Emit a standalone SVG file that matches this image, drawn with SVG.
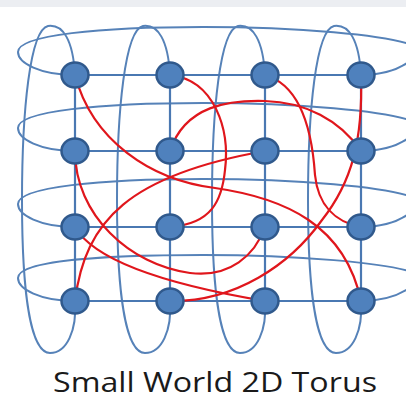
<svg xmlns="http://www.w3.org/2000/svg" width="406" height="411" viewBox="0 0 406 411">
<style>
.loop{fill:none;stroke:#5682b8;stroke-width:2}
.grid{fill:none;stroke:#4a78b2;stroke-width:2.2}
.red{fill:none;stroke:#e0161c;stroke-width:2.2}
.node{fill:#4f81bd;stroke:#30598c;stroke-width:2.5}
.title{font-family:"Open Sans","Liberation Sans",sans-serif;font-size:27px;fill:#1a1a1a}
</style>
<rect x="0" y="0" width="406" height="411" fill="#ffffff"/>
<rect x="0" y="0" width="406" height="7" fill="#eceef2"/>
<g id="connectors">
<g id="vertical-loops">
<path class="loop" d="M75,75 C73,40 63,24 48,26 C30,30 22,110 22,200 C22,290 30,353 50,353 C67,353 77,330 75,301"/>
<path class="loop" d="M170,75 C168,40 158,24 143,26 C125,30 117,110 117,200 C117,290 125,353 145,353 C162,353 172,330 170,301"/>
<path class="loop" d="M265,75 C263,40 253,24 238,26 C220,30 212,110 212,200 C212,290 220,353 240,353 C257,353 267,330 265,301"/>
<path class="loop" d="M361,75 C359,40 349,24 334,26 C316,30 308,110 308,200 C308,290 316,353 336,353 C353,353 363,330 361,301"/>
</g>
<g id="horizontal-loops">
<path class="loop" d="M75,75 C40,75 18,63 18,52 C18,35 100,27 203,27 C300,27 385,35 412,45 C428,53 400,75 361,75"/>
<path class="loop" d="M75,151 C40,151 18,139 18,128 C18,111 100,103 203,103 C300,103 385,111 412,121 C428,129 400,151 361,151"/>
<path class="loop" d="M75,227 C40,227 18,215 18,204 C18,187 100,179 203,179 C300,179 385,187 412,197 C428,205 400,227 361,227"/>
<path class="loop" d="M75,301 C40,301 18,289 18,278 C18,261 100,255 203,255 C300,255 385,263 412,272 C428,280 400,301 361,301"/>
</g>
<g id="grid">
<path class="grid" d="M75,75 H361 M75,151 H361 M75,227 H361 M75,301 H361"/>
<path class="grid" d="M75,75 V301 M170,75 V301 M265,75 V301 M361,75 V301"/>
</g>
<g id="shortcuts">
<path class="red" d="M75,75 C92,140 150,180 215,188 C285,198 345,225 361,301"/>
<path class="red" d="M75,151 C75,215 130,265 190,273 C230,278 255,255 265,227"/>
<path class="red" d="M75,227 C95,262 170,285 265,301"/>
<path class="red" d="M75,301 C85,220 130,175 265,151"/>
<path class="red" d="M361,75 C363,140 352,182 322,220 C290,265 235,302 170,301"/>
<path class="red" d="M170,151 C185,105 230,100 265,101 C305,102 340,120 361,151"/>
<path class="red" d="M170,75 C215,80 230,130 225,170 C222,200 212,224 170,227"/>
<path class="red" d="M265,75 C300,85 312,130 315,175 C318,205 335,222 361,227"/>
</g>
</g>
<g id="nodes">
<g id="n11"><ellipse class="node" cx="75" cy="75" rx="13.5" ry="12.5"/></g>
<g id="n12"><ellipse class="node" cx="170" cy="75" rx="13.5" ry="12.5"/></g>
<g id="n13"><ellipse class="node" cx="265" cy="75" rx="13.5" ry="12.5"/></g>
<g id="n14"><ellipse class="node" cx="361" cy="75" rx="13.5" ry="12.5"/></g>
<g id="n21"><ellipse class="node" cx="75" cy="151" rx="13.5" ry="12.5"/></g>
<g id="n22"><ellipse class="node" cx="170" cy="151" rx="13.5" ry="12.5"/></g>
<g id="n23"><ellipse class="node" cx="265" cy="151" rx="13.5" ry="12.5"/></g>
<g id="n24"><ellipse class="node" cx="361" cy="151" rx="13.5" ry="12.5"/></g>
<g id="n31"><ellipse class="node" cx="75" cy="227" rx="13.5" ry="12.5"/></g>
<g id="n32"><ellipse class="node" cx="170" cy="227" rx="13.5" ry="12.5"/></g>
<g id="n33"><ellipse class="node" cx="265" cy="227" rx="13.5" ry="12.5"/></g>
<g id="n34"><ellipse class="node" cx="361" cy="227" rx="13.5" ry="12.5"/></g>
<g id="n41"><ellipse class="node" cx="75" cy="301" rx="13.5" ry="12.5"/></g>
<g id="n42"><ellipse class="node" cx="170" cy="301" rx="13.5" ry="12.5"/></g>
<g id="n43"><ellipse class="node" cx="265" cy="301" rx="13.5" ry="12.5"/></g>
<g id="n44"><ellipse class="node" cx="361" cy="301" rx="13.5" ry="12.5"/></g>
</g>
<text class="title" x="53" y="392" textLength="324" lengthAdjust="spacingAndGlyphs">Small World 2D Torus</text>
</svg>
